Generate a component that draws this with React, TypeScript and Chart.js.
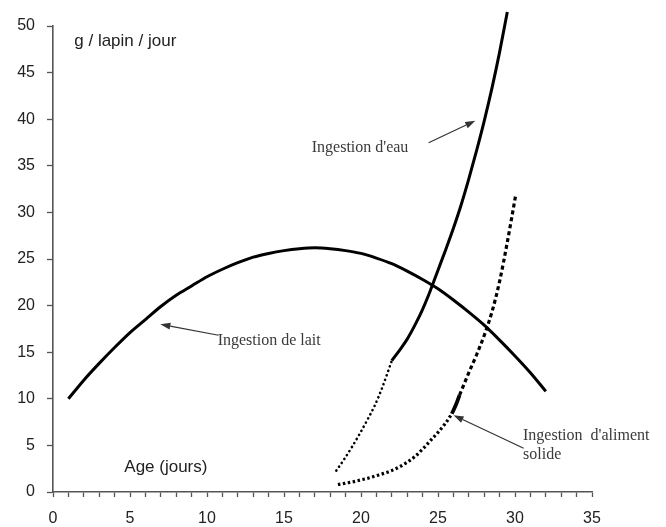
import { useEffect, useRef } from 'react';
import { Chart, registerables } from 'chart.js';

Chart.register(...registerables);

// ---- Data ----
const milkDays = [1, 2, 3, 4, 5, 6, 7, 8, 9, 10, 11, 12, 13, 14, 15, 16, 17, 18, 19, 20, 21, 22, 23, 24, 25, 26, 27, 28, 29, 30, 31, 32];
const milkValues = [10.0, 12.0, 13.8, 15.5, 17.1, 18.5, 19.9, 21.1, 22.1, 23.1, 23.9, 24.6, 25.2, 25.6, 25.9, 26.1, 26.2, 26.1, 25.9, 25.6, 25.1, 24.5, 23.7, 22.8, 21.8, 20.6, 19.3, 17.9, 16.3, 14.6, 12.8, 10.8];

const waterDottedDays = [18.4, 18.9, 19.4, 19.9, 20.4, 20.9, 21.4, 22.0];
const waterDottedValues = [2.3, 3.5, 4.8, 6.2, 7.7, 9.3, 11.3, 14.1];

const waterDays = [22.0, 22.5, 23.0, 23.5, 24.0, 24.5, 25.0, 25.5, 26.0, 26.5, 27.0, 27.5, 28.0, 28.5, 29.0, 29.5];
const waterValues = [14.1, 15.2, 16.4, 17.9, 19.6, 21.6, 23.8, 26.0, 28.3, 30.8, 33.6, 36.6, 39.8, 43.3, 47.2, 51.5];

const feedLowDays = [18.5, 19.0, 19.5, 20.0, 20.5, 21.0, 21.5, 22.0, 22.5, 23.0, 23.5, 24.0, 24.5, 25.0, 25.5, 25.9];
const feedLowValues = [0.8, 0.95, 1.1, 1.3, 1.5, 1.75, 2.0, 2.3, 2.7, 3.2, 3.8, 4.6, 5.5, 6.4, 7.4, 8.4];

const feedMidDays = [25.9, 26.15, 26.4];
const feedMidValues = [8.4, 9.3, 10.4];

const feedHighDays = [26.4, 27.0, 27.5, 28.0, 28.5, 29.0, 29.5, 30.05];
const feedHighValues = [10.4, 12.8, 14.7, 16.8, 19.3, 22.6, 26.8, 31.9];

const xTickLabels = ['0', '5', '10', '15', '20', '25', '30', '35'];
const yTickLabels = ['0', '5', '10', '15', '20', '25', '30', '35', '40', '45', '50'];

// ---- Annotations (in data coordinates) ----
const noteTexts = ['g / lapin / jour', 'Age (jours)', "Ingestion d'eau", 'Ingestion de lait', "Ingestion  d'aliment", 'solide'];
const noteX = [1.38, 4.63, 16.8, 10.69, 30.52, 30.52];
const noteY = [48.4, 2.65, 36.9, 16.2, 6.0, 3.95];
const noteSerif = [false, false, true, true, true, true];

const arrowFromX = [24.39, 10.75, 30.56];
const arrowFromY = [37.47, 16.82, 4.69];
const arrowToX = [27.42, 6.97, 26.01];
const arrowToY = [39.83, 18.0, 8.23];

const pts = (xs: number[], ys: number[]) => xs.map((x, i) => ({ x, y: ys[i] }));

const SANS = "'Liberation Sans', Arial, sans-serif";
const SERIF = "'Liberation Serif', 'Times New Roman', serif";

const annotationPlugin = {
  id: 'notes',
  afterDatasetsDraw(chart: any) {
    const { ctx, scales } = chart;
    const xs = scales.x;
    const ys = scales.y;
    ctx.save();
    ctx.textBaseline = 'middle';
    ctx.textAlign = 'left';
    noteTexts.forEach((t, i) => {
      if (noteSerif[i]) {
        ctx.font = `16px ${SERIF}`;
        ctx.fillStyle = '#3a3a3a';
      } else {
        ctx.font = `17px ${SANS}`;
        ctx.fillStyle = '#222';
      }
      ctx.fillText(t, xs.getPixelForValue(noteX[i]), ys.getPixelForValue(noteY[i]));
    });
    ctx.strokeStyle = '#333';
    ctx.fillStyle = '#333';
    ctx.lineWidth = 1.2;
    arrowFromX.forEach((fx, i) => {
      const x0 = xs.getPixelForValue(fx);
      const y0 = ys.getPixelForValue(arrowFromY[i]);
      const x1 = xs.getPixelForValue(arrowToX[i]);
      const y1 = ys.getPixelForValue(arrowToY[i]);
      const ang = Math.atan2(y1 - y0, x1 - x0);
      const len = 10;
      const half = 3.5;
      const bx = x1 - len * Math.cos(ang);
      const by = y1 - len * Math.sin(ang);
      ctx.beginPath();
      ctx.moveTo(x0, y0);
      ctx.lineTo(bx, by);
      ctx.stroke();
      ctx.beginPath();
      ctx.moveTo(x1, y1);
      ctx.lineTo(bx + half * Math.sin(ang), by - half * Math.cos(ang));
      ctx.lineTo(bx - half * Math.sin(ang), by + half * Math.cos(ang));
      ctx.closePath();
      ctx.fill();
    });
    ctx.restore();
  },
};

export default function App() {
  const ref = useRef<HTMLCanvasElement | null>(null);

  useEffect(() => {
    if (!ref.current) return;
    const common = {
      fill: false,
      pointRadius: 0,
      borderColor: '#000',
      cubicInterpolationMode: 'monotone' as const,
    };
    const chart = new Chart(ref.current, {
      type: 'line',
      data: {
        datasets: [
          { ...common, data: pts(milkDays, milkValues), borderWidth: 3 },
          { ...common, data: pts(waterDottedDays, waterDottedValues), borderWidth: 2.6, borderDash: [0.1, 4.6], borderCapStyle: 'round' },
          { ...common, data: pts(waterDays, waterValues), borderWidth: 3, clip: false as any },
          { ...common, data: pts(feedLowDays, feedLowValues), borderWidth: 3.2, borderDash: [2.5, 2.5] },
          { ...common, data: pts(feedMidDays, feedMidValues), borderWidth: 3.8 },
          { ...common, data: pts(feedHighDays, feedHighValues), borderWidth: 3.2, borderDash: [4, 3] },
        ],
      },
      options: {
        animation: false,
        responsive: false,
        devicePixelRatio: 1,
        layout: { padding: { top: 26, right: 74, left: 0, bottom: 0 } },
        plugins: { legend: { display: false }, tooltip: { enabled: false } },
        scales: {
          x: {
            type: 'linear',
            min: 0,
            max: 35,
            afterFit: (s: any) => { s.height = 35; },
            grid: { drawOnChartArea: false, tickLength: 5, color: '#555', tickWidth: 1.3 },
            border: { display: true, color: '#555', width: 1.6 },
            ticks: {
              stepSize: 1,
              autoSkip: false,
              maxRotation: 0,
              padding: 12,
              color: '#222',
              font: { family: SANS, size: 16 },
              callback: (v: any) => (xTickLabels.includes(String(v)) ? String(v) : ''),
            },
          },
          y: {
            type: 'linear',
            min: 0,
            max: 50,
            afterFit: (s: any) => { s.width = 53; },
            grid: { drawOnChartArea: false, tickLength: 6, color: '#555', tickWidth: 1.3 },
            border: { display: true, color: '#555', width: 1.6 },
            ticks: {
              stepSize: 5,
              padding: 12,
              color: '#222',
              font: { family: SANS, size: 16 },
              callback: (v: any) => (yTickLabels.includes(String(v)) ? String(v) : ''),
            },
          },
        },
      },
      plugins: [annotationPlugin],
    });
    return () => chart.destroy();
  }, []);

  return (
    <div style={{ position: 'absolute', left: 0, top: 0, width: 666, height: 527, background: '#fff' }}>
      <canvas ref={ref} width={666} height={527} />
    </div>
  );
}
